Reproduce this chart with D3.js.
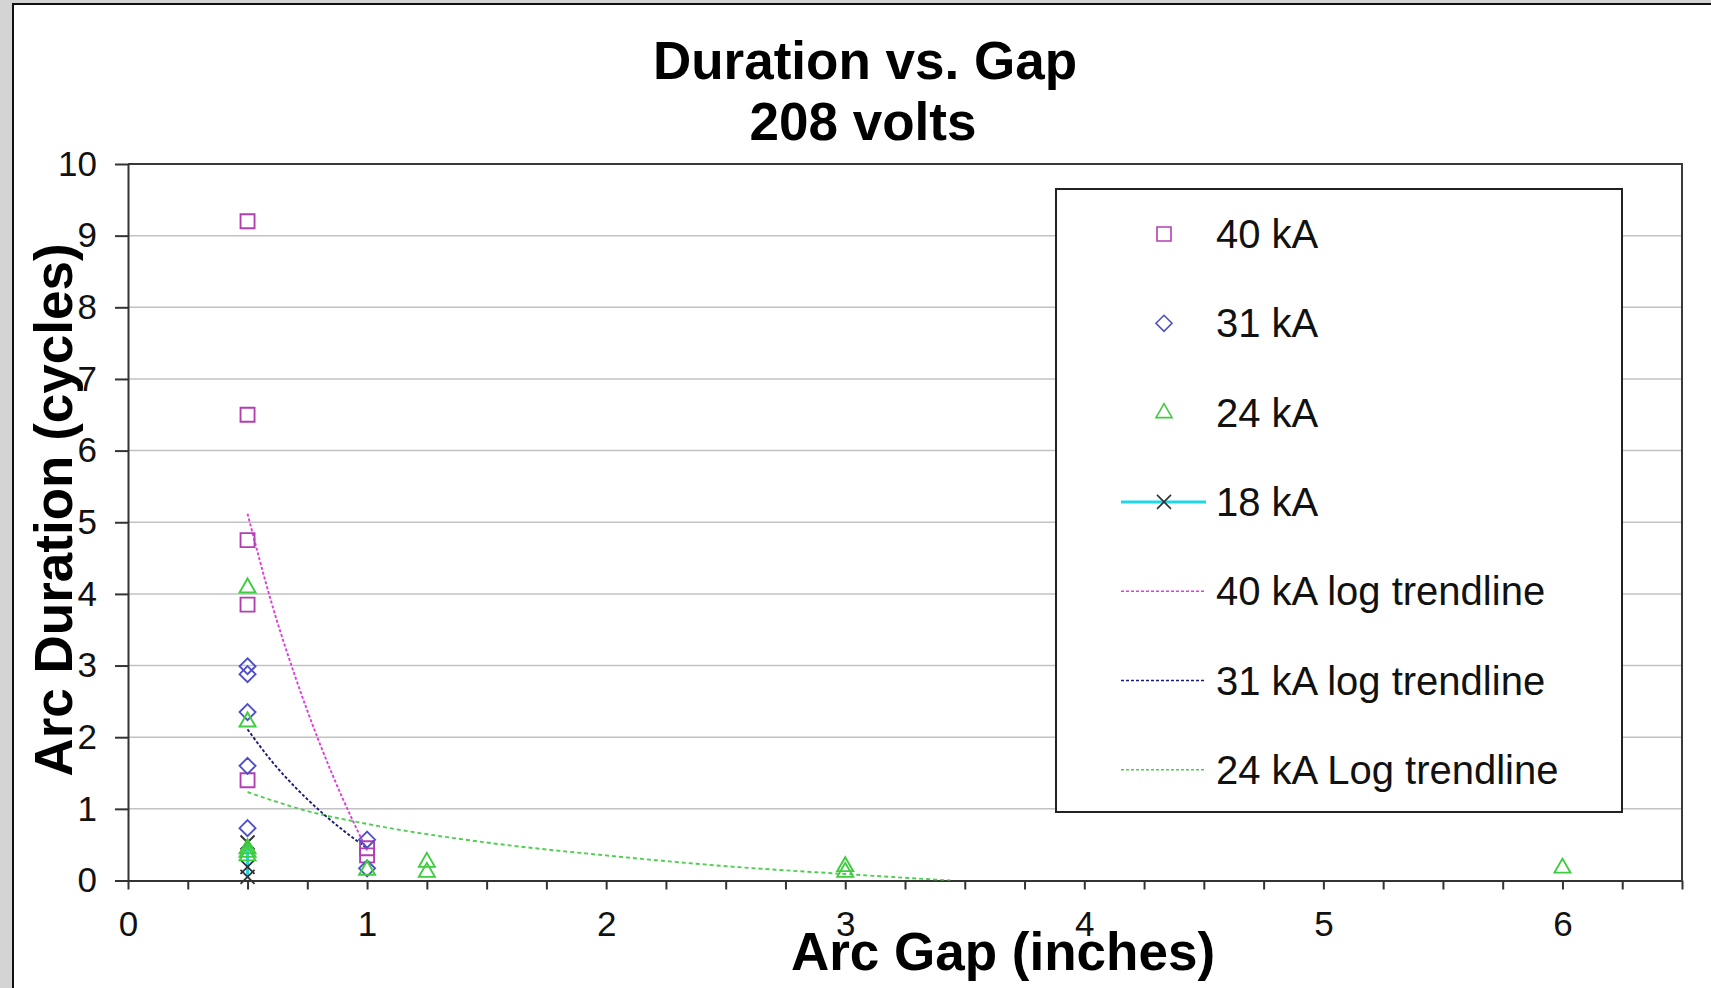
<!DOCTYPE html>
<html>
<head>
<meta charset="utf-8">
<script src="https://cdn.jsdelivr.net/npm/d3@7"></script>
<style>
  body { margin: 0; background: #d4d4d4; overflow: hidden; }
  svg { display: block; font-family: "Liberation Sans", Arial, sans-serif; }
</style>
</head>
<body>
<div id="chart"></div>
<script>
// Values
const gapLabels = [0, 1, 2, 3, 4, 5, 6];
const durationLabels = [0, 1, 2, 3, 4, 5, 6, 7, 8, 9, 10];

const gap40 = [0.5, 0.5, 0.5, 0.5, 0.5, 1, 1];
const dur40 = [9.2, 6.5, 4.75, 3.85, 1.4, 0.45, 0.35];

const gap31 = [0.5, 0.5, 0.5, 0.5, 0.5, 1, 1];
const dur31 = [2.99, 2.88, 2.35, 1.6, 0.73, 0.57, 0.17];

const gap24 = [0.5, 0.5, 0.5, 0.5, 0.5, 1, 1.25, 1.25, 3, 3, 6];
const dur24 = [4.09, 2.22, 0.45, 0.4, 0.35, 0.15, 0.26, 0.12, 0.2, 0.12, 0.18];

const gap18 = [0.5, 0.5, 0.5];
const dur18 = [0.53, 0.19, 0.05];

// log trendlines, points
const trendGap40 = [0.5, 0.6, 0.7, 0.8, 0.9, 1.0];
const trendDur40 = [5.12, 3.88, 2.84, 1.93, 1.13, 0.42];
const trendGap31 = [0.5, 0.6, 0.7, 0.8, 0.9, 1.0];
const trendDur31 = [2.11, 1.67, 1.30, 0.98, 0.70, 0.45];
const trendGap24 = [0.5, 0.75, 1, 1.5, 2, 2.5, 3, 3.44];
const trendDur24 = [1.235, 0.97, 0.79, 0.53, 0.35, 0.20, 0.09, 0];

const legendLabels = ["40 kA", "31 kA", "24 kA", "18 kA",
                      "40 kA log trendline", "31 kA log trendline", "24 kA Log trendline"];

const zip = (xs, ys) => xs.map((g, i) => ({ gap: g, dur: ys[i] }));

const width = 1711;
const height = 988;

const svg = d3.select("#chart")
              .append("svg")
              .attr("width", width)
              .attr("height", height);

// white chart area with its frame (only left/top edges show)
svg.append("rect")
   .attr("x", 13).attr("y", 4)
   .attr("width", width).attr("height", height)
   .attr("fill", "#fff")
   .attr("stroke", "#111")
   .attr("stroke-width", 2);

// Scales
const x = d3.scaleLinear().domain([0, 6.5]).range([128, 1682]);
const y = d3.scaleLinear().domain([0, 10]).range([880.5, 164]);

// Gridlines
svg.append("g")
   .selectAll("line")
   .data(durationLabels.filter(d => d > 0 && d < 10))
   .join("line")
   .attr("x1", x(0)).attr("x2", x(6.5))
   .attr("y1", d => y(d)).attr("y2", d => y(d))
   .attr("stroke", "#c2c2c2")
   .attr("stroke-width", 1.5);

// Plot area border (top and right)
svg.append("path")
   .attr("d", `M${x(0)},${y(10)}H${x(6.5)}V${y(0)}`)
   .attr("fill", "none")
   .attr("stroke", "#3a3a3a")
   .attr("stroke-width", 2);

// X axis
const xAxis = svg.append("g")
   .attr("transform", `translate(0, ${y(0)})`)
   .call(d3.axisBottom(x)
           .tickValues(d3.range(0, 6.5001, 0.25))
           .tickSize(9)
           .tickSizeOuter(0)
           .tickPadding(22)
           .tickFormat(d => gapLabels.includes(d) ? d : ""));
xAxis.selectAll("text").attr("font-size", 35).attr("fill", "#111");

// Y axis
const yAxis = svg.append("g")
   .attr("transform", `translate(${x(0)}, 0)`)
   .call(d3.axisLeft(y)
           .tickValues(durationLabels)
           .tickSize(13)
           .tickSizeOuter(0)
           .tickPadding(18));
yAxis.selectAll("text").attr("font-size", 35).attr("fill", "#111");

svg.selectAll(".domain, .tick line").attr("stroke", "#333").attr("stroke-width", 2);

// Titles
svg.append("text")
   .attr("x", 865).attr("y", 79)
   .attr("font-size", 53).attr("font-weight", "bold")
   .style("text-anchor", "middle")
   .text("Duration vs. Gap");
svg.append("text")
   .attr("x", 863).attr("y", 140)
   .attr("font-size", 53).attr("font-weight", "bold")
   .style("text-anchor", "middle")
   .text("208 volts");

svg.append("text")
   .attr("x", 1003).attr("y", 970)
   .attr("font-size", 53).attr("font-weight", "bold")
   .style("text-anchor", "middle")
   .text("Arc Gap (inches)");

svg.append("text")
   .attr("transform", "rotate(-90)")
   .attr("x", -510).attr("y", 72)
   .attr("font-size", 53).attr("font-weight", "bold")
   .style("text-anchor", "middle")
   .text("Arc Duration (cycles)");

// Marker shapes
const squarePath = "M-7,-7H7V7H-7Z";
const diamondPath = "M0,-8L8,0L0,8L-8,0Z";
const trianglePath = "M0,-9L8,5H-8Z";
const crossPath = "M-7,-7L7,7M-7,7L7,-7";

// Trendlines, clipped to the plot area
svg.append("clipPath").attr("id", "plot-clip")
   .append("rect")
   .attr("x", x(0)).attr("y", y(10))
   .attr("width", x(6.5) - x(0)).attr("height", y(0) - y(10));

const curve = d3.line()
                .x(d => x(d.gap))
                .y(d => y(d.dur))
                .curve(d3.curveMonotoneX);

const trends = [
  { pts: zip(trendGap24, trendDur24), color: "#4fcf4f", dash: "4,3" },
  { pts: zip(trendGap31, trendDur31), color: "#1c1c78", dash: "3,2" },
  { pts: zip(trendGap40, trendDur40), color: "#e03ce0", dash: "3,2" }
];

svg.append("g")
   .attr("clip-path", "url(#plot-clip)")
   .selectAll("path")
   .data(trends)
   .join("path")
   .attr("d", d => curve(d.pts))
   .attr("fill", "none")
   .attr("stroke", d => d.color)
   .attr("stroke-width", 1.9)
   .attr("stroke-dasharray", d => d.dash);

// 18 kA connecting line
svg.append("path")
   .attr("d", d3.line().x(d => x(d.gap)).y(d => y(d.dur))(zip(gap18, dur18)))
   .attr("fill", "none")
   .attr("stroke", "#1ed8e8")
   .attr("stroke-width", 3);

// Scatter markers
const series = [
  { pts: zip(gap18, dur18), shape: crossPath, color: "#333" },
  { pts: zip(gap40, dur40), shape: squarePath, color: "#b23fb2" },
  { pts: zip(gap31, dur31), shape: diamondPath, color: "#5050c4" },
  { pts: zip(gap24, dur24), shape: trianglePath, color: "#40cc40" }
];

series.forEach(s => {
  svg.append("g")
     .selectAll("path")
     .data(s.pts)
     .join("path")
     .attr("transform", d => `translate(${x(d.gap)}, ${y(d.dur)})`)
     .attr("d", s.shape)
     .attr("fill", "none")
     .attr("stroke", s.color)
     .attr("stroke-width", 1.9);
});

// Legend
const legend = svg.append("g");
legend.append("rect")
      .attr("x", 1056).attr("y", 189)
      .attr("width", 566).attr("height", 623)
      .attr("fill", "#fff")
      .attr("stroke", "#222")
      .attr("stroke-width", 2);

const legendItems = [
  { shape: squarePath, color: "#b23fb2" },
  { shape: diamondPath, color: "#5050c4" },
  { shape: trianglePath, color: "#40cc40" },
  { shape: crossPath, color: "#333", line: "#1ed8e8", lineWidth: 3 },
  { line: "#e03ce0", dash: "3,2", lineWidth: 1.5 },
  { line: "#1c1c78", dash: "3,2", lineWidth: 1.5 },
  { line: "#4fcf4f", dash: "3,2", lineWidth: 1.5 }
];

legendItems.forEach((item, i) => {
  const cy = 234 + i * 89.3;
  if (item.line) {
    legend.append("line")
          .attr("x1", 1121).attr("x2", 1206)
          .attr("y1", cy).attr("y2", cy)
          .attr("stroke", item.line)
          .attr("stroke-width", item.lineWidth)
          .attr("stroke-dasharray", item.dash || null);
  }
  if (item.shape) {
    legend.append("path")
          .attr("transform", `translate(1164, ${cy})`)
          .attr("d", item.shape)
          .attr("fill", "none")
          .attr("stroke", item.color)
          .attr("stroke-width", 1.6);
  }
  legend.append("text")
        .attr("x", 1216).attr("y", cy + 14)
        .attr("font-size", 40)
        .attr("fill", "#111")
        .text(legendLabels[i]);
});
</script>
</body>
</html>
